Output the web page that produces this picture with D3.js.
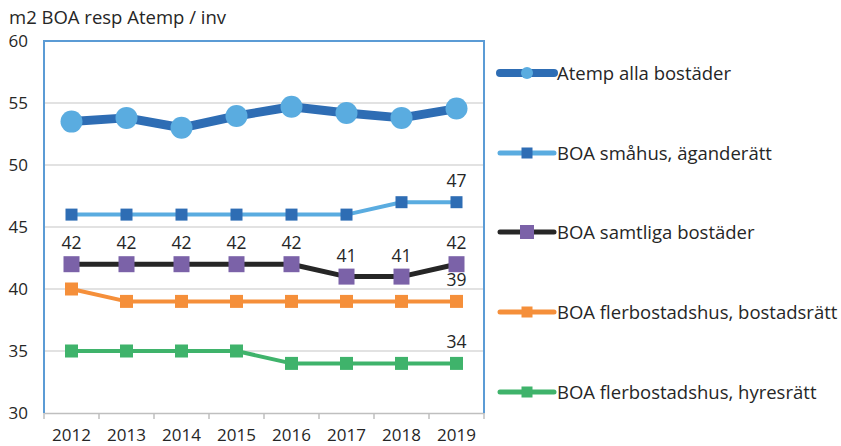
<!DOCTYPE html>
<html>
<head>
<meta charset="utf-8">
<script src="https://cdn.jsdelivr.net/npm/d3@7"></script>
<style>
  body { margin: 0; background: #fff; }
  text { font-family: "Open Sans", Lato, sans-serif; fill: #262626; }
</style>
</head>
<body>
<div id="chart"></div>
<script>
// data
var years = ["2012", "2013", "2014", "2015", "2016", "2017", "2018", "2019"];
var atempAlla = [53.5, 53.8, 53.0, 53.95, 54.7, 54.2, 53.8, 54.55];
var smahusAgande = [46, 46, 46, 46, 46, 46, 47, 47];
var samtligaBoa = [42, 42, 42, 42, 42, 41, 41, 42];
var flerBostadsratt = [40, 39, 39, 39, 39, 39, 39, 39];
var flerHyresratt = [35, 35, 35, 35, 34, 34, 34, 34];
var yTicks = [30, 35, 40, 45, 50, 55, 60];

var series = [
  {name: "Atemp alla bostäder", values: atempAlla, line: "#2e6db4", lw: 9,
    marker: "circle", mfill: "#5aace0", msize: 11, labels: []},
  {name: "BOA småhus, äganderätt", values: smahusAgande, line: "#5aace0", lw: 4,
    marker: "square", mfill: "#2e6db4", msize: 12, labels: [7]},
  {name: "BOA samtliga bostäder", values: samtligaBoa, line: "#262626", lw: 5,
    marker: "square", mfill: "#7b62a8", msize: 16, labels: [0,1,2,3,4,5,6,7]},
  {name: "BOA flerbostadshus, bostadsrätt", values: flerBostadsratt, line: "#f58f3a", lw: 4,
    marker: "square", mfill: "#f58f3a", msize: 13, labels: [7]},
  {name: "BOA flerbostadshus, hyresrätt", values: flerHyresratt, line: "#3fb36b", lw: 4,
    marker: "square", mfill: "#3fb36b", msize: 13, labels: [7]}
];

var width = 841, height = 446;
var plot = {left: 44, right: 484, top: 41, bottom: 413};

var svg = d3.select("#chart").append("svg")
  .attr("width", width)
  .attr("height", height);

var x = d3.scaleBand().domain(years).range([plot.left, plot.right]);
var y = d3.scaleLinear().domain([30, 60]).range([plot.bottom, plot.top]);

// title
svg.append("text")
  .attr("x", 9).attr("y", 24)
  .style("font-size", "18.5px")
  .text("m2 BOA resp Atemp / inv");

// gridlines
svg.append("g").selectAll("line")
  .data(yTicks.filter(d => d > 30 && d < 60))
  .enter().append("line")
    .attr("x1", plot.left).attr("x2", plot.right)
    .attr("y1", d => y(d)).attr("y2", d => y(d))
    .attr("stroke", "#d9d9d9").attr("stroke-width", 1.5);

// y labels
svg.append("g").selectAll("text")
  .data(yTicks)
  .enter().append("text")
    .attr("x", 28).attr("y", d => y(d) + 6)
    .attr("text-anchor", "end")
    .style("font-size", "17px")
    .text(d => d);

// x axis
var xAxis = svg.append("g")
  .attr("transform", `translate(0,${plot.bottom})`)
  .call(d3.axisBottom(x).tickSize(0).tickPadding(16));
xAxis.select(".domain").attr("stroke", "#bfbfbf").attr("stroke-width", 1.5);
xAxis.selectAll("text").style("font-size", "17px").style("font-family", "'Open Sans', sans-serif").attr("fill", "#262626");
xAxis.selectAll(".bound")
  .data(years.map(d => x(d)).concat([plot.right]))
  .enter().append("line")
    .attr("x1", d => d).attr("x2", d => d)
    .attr("y1", 0).attr("y2", 6)
    .attr("stroke", "#bfbfbf").attr("stroke-width", 1.5);

// plot border (blue) on top, left, right
svg.append("path")
  .attr("d", `M${plot.left},${plot.bottom}V${plot.top}H${plot.right}V${plot.bottom}`)
  .attr("fill", "none")
  .attr("stroke", "#5b9bd5")
  .attr("stroke-width", 2);

var line = d3.line()
  .x((d, i) => x(years[i]) + x.bandwidth() / 2)
  .y(d => y(d));

function drawMarker(g, s, cx, cy) {
  if (s.marker === "circle") {
    g.append("circle").attr("cx", cx).attr("cy", cy).attr("r", s.msize)
      .attr("fill", s.mfill);
  } else {
    g.append("rect")
      .attr("x", cx - s.msize / 2).attr("y", cy - s.msize / 2)
      .attr("width", s.msize).attr("height", s.msize)
      .attr("fill", s.mfill);
  }
}

// draw series, bottom one first
series.slice().reverse().forEach(function(s) {
  var g = svg.append("g");
  g.append("path")
    .datum(s.values)
    .attr("d", line)
    .attr("fill", "none")
    .attr("stroke", s.line)
    .attr("stroke-width", s.lw)
    .attr("stroke-linejoin", "round");
  s.values.forEach(function(v, i) {
    drawMarker(g, s, x(years[i]) + x.bandwidth() / 2, y(v));
  });
  s.labels.forEach(function(i) {
    g.append("text")
      .attr("x", x(years[i]) + x.bandwidth() / 2)
      .attr("y", y(s.values[i]) - 15)
      .attr("text-anchor", "middle")
      .style("font-size", "17.5px")
      .text(s.values[i]);
  });
});

// legend
var legendY = [73, 153, 232, 312, 392];
series.forEach(function(s, i) {
  var g = svg.append("g").attr("transform", `translate(0,${legendY[i]})`);
  g.append("line")
    .attr("x1", 500).attr("x2", 554)
    .attr("y1", 0).attr("y2", 0)
    .attr("stroke", s.line)
    .attr("stroke-width", s.lw === 9 ? 8 : 5)
    .attr("stroke-linecap", "round");
  var ms = s.marker === "circle" ? {marker: "circle", mfill: s.mfill, msize: 6}
    : {marker: "square", mfill: s.mfill, msize: s.msize === 16 ? 14 : 11};
  drawMarker(g, ms, 527, 0);
  g.append("text")
    .attr("x", 557).attr("y", 6.5)
    .style("font-size", "18.5px")
    .text(s.name);
});
</script>
</body>
</html>
